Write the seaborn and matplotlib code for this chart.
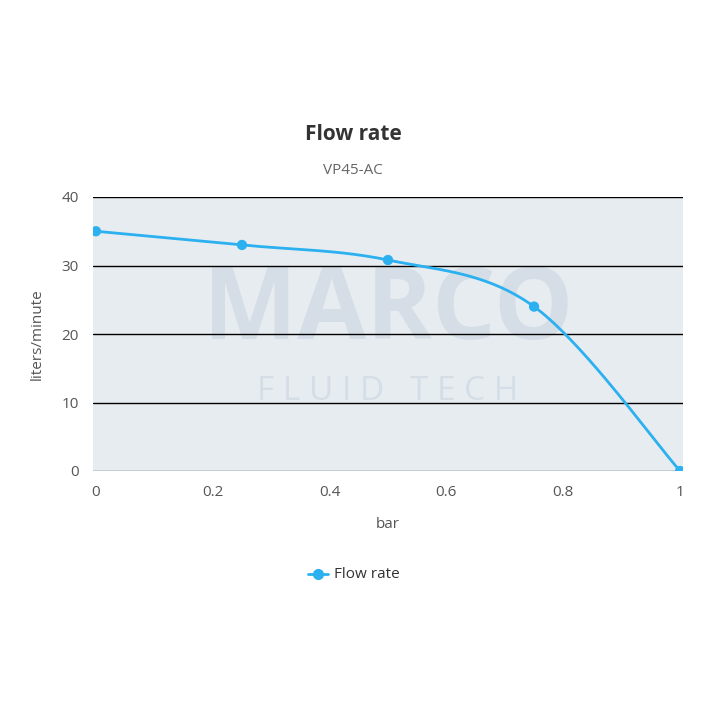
import numpy as np
import matplotlib
matplotlib.use("Agg")
import matplotlib.pyplot as plt
import seaborn as sns
import pandas as pd

pressure = [0, 0.25, 0.5, 0.75, 1.0]
flow = [35, 33, 30.8, 24, 0]
x_ticks = [0, 0.2, 0.4, 0.6, 0.8, 1]
y_ticks = [0, 10, 20, 30, 40]

sns.set_style("white")
plt.rcParams['font.family'] = ['Open Sans', 'DejaVu Sans']

fig = plt.figure(figsize=(7.2, 7.19), dpi=100)
ax = fig.add_axes([93/720, 1-471/719, 590/720, 274/719])
ax.set_facecolor('#e7ecf0')

# Catmull-Rom style smoothing through the data points (Highcharts spline look)
xs, ys = np.array(pressure), np.array(flow)
px, py = [], []
for i in range(len(xs)-1):
    p0 = (xs[max(i-1,0)], ys[max(i-1,0)]); p1 = (xs[i], ys[i])
    p2 = (xs[i+1], ys[i+1]); p3 = (xs[min(i+2,len(xs)-1)], ys[min(i+2,len(xs)-1)])
    t = np.linspace(0, 1, 40)
    for k, (a0, a1, a2, a3) in enumerate([(p0[0],p1[0],p2[0],p3[0]), (p0[1],p1[1],p2[1],p3[1])]):
        v = 0.5*((2*a1) + (-a0+a2)*t + (2*a0-5*a1+4*a2-a3)*t**2 + (-a0+3*a1-3*a2+a3)*t**3)
        (px if k == 0 else py).extend(v)
curve = pd.DataFrame({'x': px, 'y': py})
pts = pd.DataFrame({'bar': pressure, 'flow': flow})

for y in y_ticks[1:]:
    ax.axhline(y, color='black', lw=1, zorder=1)
ax.text(0.5, 0.58, 'MARCO', transform=ax.transAxes, ha='center', va='center',
        fontsize=72, color='#c9d6e0', alpha=0.6, fontweight='bold', zorder=0)
ax.text(0.5, 0.29, 'F L U I D   T E C H', transform=ax.transAxes, ha='center', va='center',
        fontsize=24, color='#c9d6e0', alpha=0.6, zorder=0)
sns.lineplot(data=curve, x='x', y='y', ax=ax, color='#2bb0f0', lw=2, zorder=3, sort=False)
sns.scatterplot(data=pts, x='bar', y='flow', ax=ax, color='#2bb0f0', s=55, edgecolor='none', zorder=4)

ax.set_xlim(-0.005, 1.005)
ax.set_ylim(0, 40)
ax.set_xticks(x_ticks); ax.set_xticklabels(['0', '0.2', '0.4', '0.6', '0.8', '1'])
ax.set_yticks(y_ticks)
ax.tick_params(labelsize=11, colors='#555555', length=0, pad=10)
for s in ax.spines.values():
    s.set_visible(False)
ax.axhline(0, color='#c0c8d0', lw=1.2, zorder=2)
ax.set_xlabel('bar', fontsize=11, color='#555555', labelpad=12)
ax.set_ylabel('liters/minute', fontsize=11, color='#555555', labelpad=12)

fig.text(353/720, 1-135/719, 'Flow rate', ha='center', va='center', fontsize=15, fontweight='bold', color='#333333')
fig.text(353/720, 1-170/719, 'VP45-AC', ha='center', va='center', fontsize=11, color='#666666')

fig.lines.append(plt.Line2D([308/720, 328/720], [1-574/719]*2, transform=fig.transFigure, color='#2bb0f0', lw=2))
fig.lines.append(plt.Line2D([318/720], [1-574/719], transform=fig.transFigure, color='#2bb0f0', marker='o', ms=7))
fig.text(334/720, 1-574/719, 'Flow rate', ha='left', va='center', fontsize=11, color='#333333')

fig.savefig('out.png', dpi=100, facecolor='white')
